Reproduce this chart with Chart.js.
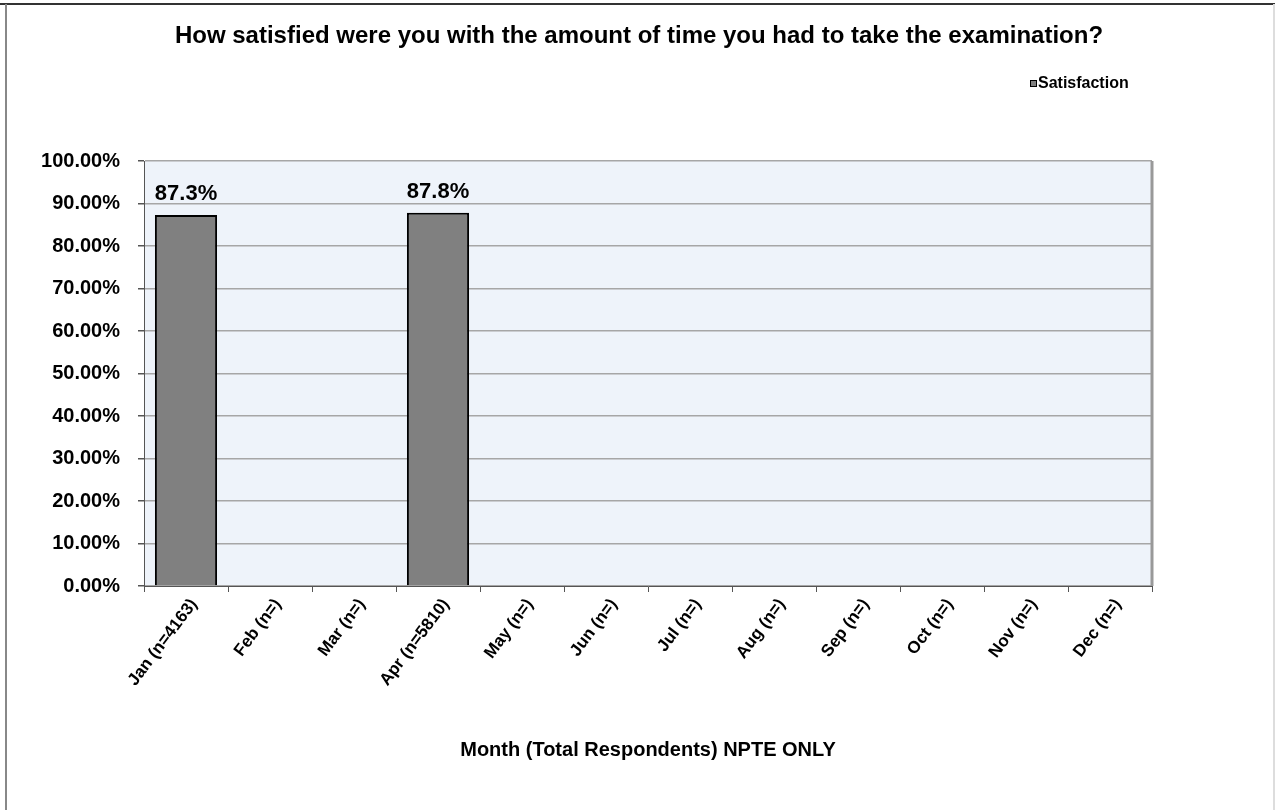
<!DOCTYPE html>
<html>
<head>
<meta charset="utf-8">
<script src="https://cdn.jsdelivr.net/npm/chart.js@4"></script>
<style>
  body { margin: 0; background: #fff; }
  #wrap { width: 1275px; height: 810px; }
</style>
</head>
<body>
<div id="wrap"><canvas id="satChart" width="1275" height="810"></canvas></div>
<script>
// Chart data
const months = ['Jan', 'Feb', 'Mar', 'Apr', 'May', 'Jun', 'Jul', 'Aug', 'Sep', 'Oct', 'Nov', 'Dec'];
const respondents = ['4163', '', '', '5810', '', '', '', '', '', '', '', ''];
const satisfaction = [87.3, null, null, 87.8, null, null, null, null, null, null, null, null];
const yTicks = [0, 10, 20, 30, 40, 50, 60, 70, 80, 90, 100];

const chartTitle = 'How satisfied were you with the amount of time you had to take the examination?';
const xTitle = 'Month (Total Respondents) NPTE ONLY';
const seriesName = 'Satisfaction';

const labels = months.map((m, i) => `${m} (n=${respondents[i]})`);
const FONT = 'Arial, "Liberation Sans", sans-serif';

// Outer frame, plot background and the chart title (centred on the whole frame)
const framePlugin = {
    id: 'frame',
    beforeDraw(chart) {
        const ctx = chart.ctx;
        const a = chart.chartArea;
        ctx.save();
        ctx.fillStyle = '#ffffff';
        ctx.fillRect(0, 0, chart.width, chart.height);
        ctx.fillStyle = '#eef3fa';
        ctx.fillRect(a.left, a.top, a.right - a.left, a.bottom - a.top);
        // frame lines
        ctx.lineWidth = 2;
        ctx.strokeStyle = '#333333';
        ctx.beginPath(); ctx.moveTo(0, 4); ctx.lineTo(chart.width, 4); ctx.stroke();
        ctx.strokeStyle = '#888888';
        ctx.beginPath(); ctx.moveTo(6, 4); ctx.lineTo(6, chart.height); ctx.stroke();
        ctx.strokeStyle = '#dddddd';
        ctx.beginPath(); ctx.moveTo(1274, 4); ctx.lineTo(1274, chart.height); ctx.stroke();
        // title
        ctx.font = `bold 24px ${FONT}`;
        ctx.fillStyle = '#000';
        ctx.textAlign = 'center';
        ctx.textBaseline = 'middle';
        ctx.fillText(chartTitle, 639, 36);
        ctx.restore();
    },
    afterDraw(chart) {
        // right border of plot area
        const ctx = chart.ctx;
        const a = chart.chartArea;
        ctx.save();
        ctx.strokeStyle = '#999999';
        ctx.lineWidth = 3;
        ctx.beginPath(); ctx.moveTo(a.right, a.top); ctx.lineTo(a.right, a.bottom); ctx.stroke();
        ctx.restore();
    }
};

// Value labels above bars
const valueLabels = {
    id: 'valueLabels',
    afterDatasetsDraw(chart) {
        const ctx = chart.ctx;
        const meta = chart.getDatasetMeta(0);
        ctx.save();
        ctx.font = `bold 22px ${FONT}`;
        ctx.fillStyle = '#000';
        ctx.textAlign = 'center';
        ctx.textBaseline = 'alphabetic';
        meta.data.forEach((bar, i) => {
            const v = satisfaction[i];
            if (v == null) return;
            ctx.fillText(v.toFixed(1) + '%', bar.x, bar.y - 15);
        });
        ctx.restore();
    }
};

// Legend in the top-right corner
const legendBox = {
    id: 'legendBox',
    afterDraw(chart) {
        const ctx = chart.ctx;
        ctx.save();
        ctx.fillStyle = '#808080';
        ctx.strokeStyle = '#000';
        ctx.lineWidth = 1;
        ctx.fillRect(1030.5, 80.5, 6, 6);
        ctx.strokeRect(1030.5, 80.5, 6, 6);
        ctx.font = `bold 16px ${FONT}`;
        ctx.fillStyle = '#000';
        ctx.textBaseline = 'middle';
        ctx.textAlign = 'left';
        ctx.fillText(seriesName, 1038, 84);
        ctx.restore();
    }
};

new Chart(document.getElementById('satChart'), {
    type: 'bar',
    data: {
        labels: labels,
        datasets: [{
            label: seriesName,
            data: satisfaction,
            backgroundColor: '#808080',
            borderColor: '#000000',
            borderWidth: 2,
            categoryPercentage: 1,
            barPercentage: 0.74
        }]
    },
    options: {
        responsive: false,
        animation: false,
        layout: { padding: { left: 0, right: 123, top: 161, bottom: 0 } },
        plugins: {
            legend: { display: false },
            tooltip: { enabled: false },
            title: { display: false }
        },
        scales: {
            x: {
                offset: true,
                grid: {
                    offset: true,
                    drawOnChartArea: false,
                    drawTicks: true,
                    tickLength: 6,
                    color: '#555555'
                },
                border: { color: '#555555', width: 1 },
                ticks: {
                    color: '#000',
                    font: { family: FONT, size: 17, weight: 'bold' },
                    minRotation: 53,
                    maxRotation: 53,
                    autoSkip: false,
                    labelOffset: 8,
                    padding: 3
                },
                title: {
                    display: true,
                    text: xTitle,
                    color: '#000',
                    font: { family: FONT, size: 20, weight: 'bold' },
                    padding: { top: 4, bottom: 48 }
                },
                afterFit(scale) { scale.height = 224; }
            },
            y: {
                min: 0,
                max: 100,
                afterBuildTicks(scale) { scale.ticks = yTicks.map(v => ({ value: v })); },
                grid: {
                    color: '#a6a6a6',
                    lineWidth: 1.5,
                    drawTicks: true,
                    tickLength: 6,
                    tickColor: '#555555'
                },
                border: { color: '#555555', width: 1 },
                ticks: {
                    color: '#000',
                    font: { family: FONT, size: 20, weight: 'bold' },
                    padding: 18,
                    callback: v => v.toFixed(2) + '%'
                },
                afterFit(scale) { scale.width = 144; }
            }
        }
    },
    plugins: [framePlugin, valueLabels, legendBox]
});
</script>
</body>
</html>
